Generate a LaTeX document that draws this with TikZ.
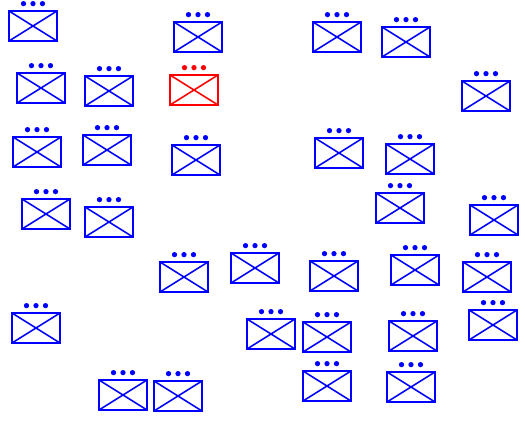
\documentclass[tikz,border=0pt]{standalone}
\usepackage{tikz}
\usetikzlibrary{positioning}
\tikzset{
  unit/.style={draw, line width=0.9pt, minimum width=0.96cm, minimum height=0.6cm, inner sep=0pt, outer sep=0pt},
  dot/.style={circle, fill, inner sep=0pt, minimum size=0.105cm, outer sep=0pt},
  friend/.style={blue},
  foe/.style={red}
}
% one marked unit: box, crossed diagonals, three dots on top
\newcommand{\unitmark}[4]{
  \node[unit, #1] (u#2) at (#3,#4) {};
  \draw[#1, line width=0.9pt] (u#2.north west) -- (u#2.south east);
  \draw[#1, line width=0.9pt] (u#2.south west) -- (u#2.north east);
  \node[dot, #1, above=0.095cm of u#2.north] (d#2) {};
  \node[dot, #1, left=0.085cm of d#2] (l#2) {};
  \node[dot, #1, right=0.085cm of d#2] (r#2) {};
}
\begin{document}
\begin{tikzpicture}[x=0.02cm, y=-0.02cm]
    \useasboundingbox (0,0) rectangle (525,420);
    % Blue units
    \foreach \n/\px/\py in {1/33/26, 2/198/37, 3/337/37, 4/406/42, 5/41/88, 6/109/91,
      8/486/96, 9/37/152, 10/107/150, 11/196/160, 12/339/153, 13/410/159,
      14/400/208, 15/46/214, 16/109/222, 17/494/220, 18/184/277, 19/255/268,
      20/334/276, 21/415/270, 22/487/277, 23/36/328, 24/271/334, 25/327/337,
      26/413/336, 27/493/325, 28/123/395, 29/178/396, 30/327/386, 31/411/387}
      \unitmark{friend}{\n}{\px}{\py};

    % Red unit
    \unitmark{foe}{7}{194}{90};
\end{tikzpicture}
\end{document}
